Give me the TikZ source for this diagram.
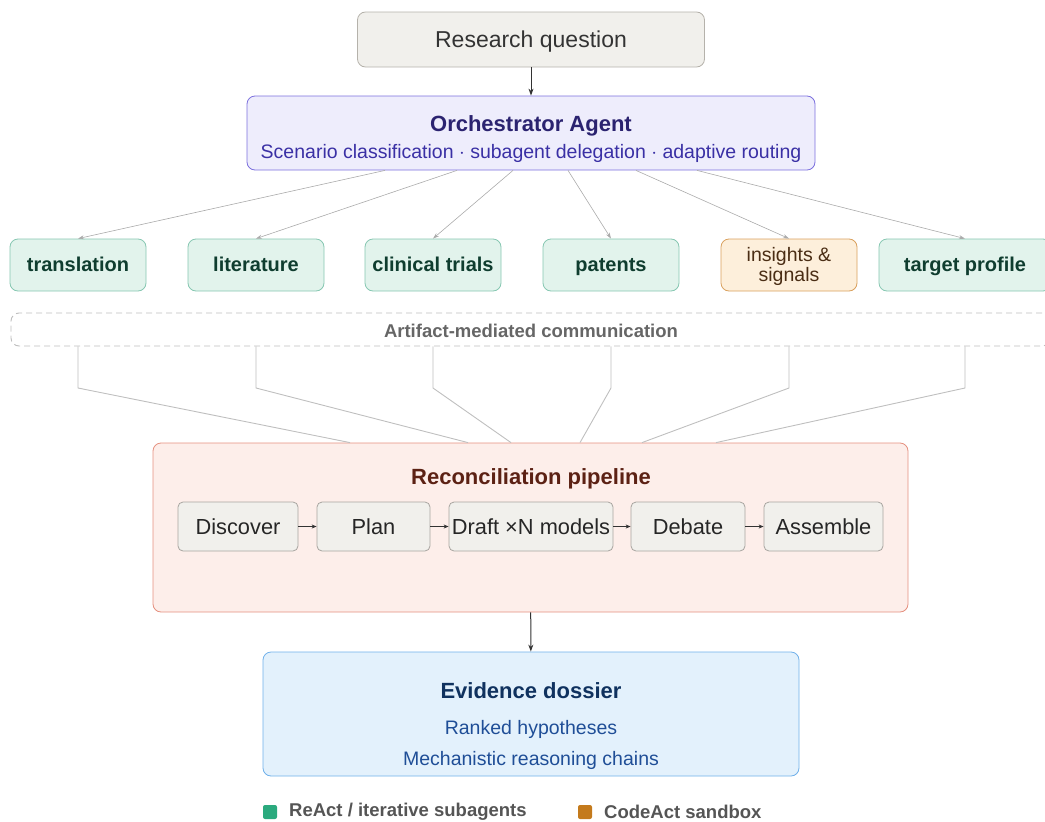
\documentclass[tikz,border=0pt]{standalone}
\usepackage{fontspec}
\setmainfont{Liberation Sans}
\usetikzlibrary{arrows.meta}
\definecolor{qfill}{HTML}{F1F0EC}
\definecolor{qdraw}{HTML}{B5B2AB}
\definecolor{orchfill}{HTML}{EEEDFC}
\definecolor{orchdraw}{HTML}{7C70DE}
\definecolor{orchtitle}{HTML}{2B2370}
\definecolor{orchsub}{HTML}{3A30A5}
\definecolor{subfill}{HTML}{E2F3EC}
\definecolor{subdraw}{HTML}{86C7B1}
\definecolor{subtext}{HTML}{0F3D2F}
\definecolor{insfill}{HTML}{FDEFDB}
\definecolor{insdraw}{HTML}{D9A05D}
\definecolor{instext}{HTML}{4A2D14}
\definecolor{artdraw}{HTML}{BDBDBD}
\definecolor{arttext}{HTML}{666666}
\definecolor{recfill}{HTML}{FDEEEA}
\definecolor{recdraw}{HTML}{E5907F}
\definecolor{rectitle}{HTML}{5C2114}
\definecolor{stagedraw}{HTML}{A8A5A0}
\definecolor{dosfill}{HTML}{E3F1FC}
\definecolor{dosdraw}{HTML}{6FB0EA}
\definecolor{dostitle}{HTML}{10325F}
\definecolor{dostext}{HTML}{1F4E97}
\definecolor{legreen}{HTML}{2BAA7E}
\definecolor{leorange}{HTML}{C47A1C}
\definecolor{legtext}{HTML}{555555}
\newcommand{\fsz}[1]{\fontsize{#1}{#1}\selectfont}
\begin{document}
\begin{tikzpicture}
[   x=1pt,y=-1pt,
    box/.style={draw=#1,rounded corners=8pt,line width=0.8pt,inner sep=0pt},
    subnode/.style={box=subdraw,fill=subfill,minimum width=136pt,minimum height=52pt,
        font=\fsz{20}\bfseries,text=subtext,text height=15pt,text depth=3pt},
    stage/.style={box=stagedraw,fill=qfill,rounded corners=5pt,minimum height=49pt,
        font=\fsz{21.8},text=black!85},
    fan/.style={draw=black!33,line width=0.6pt,-{Stealth[length=6pt,width=4pt]}},
    link/.style={draw=black!25,line width=0.9pt},
    dark/.style={draw=black!80,line width=1pt,-{Stealth[length=7pt,width=5pt]}},
]
    \useasboundingbox (0,0) rectangle (1045,822);
    % top
    \node[box=qdraw,fill=qfill,minimum width=347pt,minimum height=55pt] (q) at (531,39.5) {};
    \node[font=\fsz{23},text=black!80] (q-t) at (531,41.5) {Research question};
    \node[box=orchdraw,fill=orchfill,minimum width=568pt,minimum height=74pt] (orch) at (531,133) {};
    \node[font=\fsz{22}\bfseries,text=orchtitle] (orch-t) at (531,126) {Orchestrator Agent};
    \node[font=\fsz{19.5},text=orchsub] (orch-s) at (531,153)
        {Scenario classification $\cdot$ subagent delegation $\cdot$ adaptive routing};
    \draw[dark] (q) -- (orch);
    % subagents
    \foreach \x/\n/\t in {78/s1/translation,256/s2/literature,433/s3/clinical trials,611/s4/patents}
    {   \node[subnode] (\n) at (\x,265) {\t};
    }
    \node[subnode,minimum width=172pt] (s6) at (965,265) {};
    \node[font=\fsz{20}\bfseries,text=subtext,text height=15pt,text depth=3pt] at (s6.center)
        {target profile};
    \node[box=insdraw,fill=insfill,minimum width=136pt,minimum height=52pt] (s5) at (789,265) {};
    \node[font=\fontsize{19.5}{20}\selectfont,text=instext,align=center] (s5-t) at (789,266)
        {insights \&\\signals};
    \foreach \s/\n in {385/s1,457/s2,513/s3,568/s4,636/s5,697/s6}
    {   \draw[fan] (orch.south -| \s,0) -- (\n.north -| \n);
    }
    % artifacts
    \node[draw=artdraw,dashed,dash pattern=on 6pt off 4pt,line width=0.9pt,rounded corners=8pt,
        minimum width=1039pt,minimum height=33pt,inner sep=0pt] (art) at (530.5,329.5) {};
    \node[font=\fsz{18.5}\bfseries,text=arttext] (art-t) at (531,331) {Artifact-mediated communication};
    % reconciliation
    \node[box=recdraw,fill=recfill,minimum width=755pt,minimum height=169pt] (rec) at (530.5,527.5) {};
    \node[font=\fsz{22}\bfseries,text=rectitle] (rec-t) at (531,479) {Reconciliation pipeline};
    \foreach \n/\e in {s1/350,s2/468,s3/511,s4/580,s5/642,s6/716}
    {   \draw[link] (\n |- art.south) -- (\n |- 0,388) -- (rec.north -| \e,0);
    }
    \node[stage,minimum width=120pt] (p1) at (238,526.5) {Discover};
    \node[stage,minimum width=113pt] (p2) at (373.5,526.5) {Plan};
    \node[stage,minimum width=164pt] (p3) at (531,526.5) {Draft ×N models};
    \node[stage,minimum width=114pt] (p4) at (688,526.5) {Debate};
    \node[stage,minimum width=119pt] (p5) at (823.5,526.5) {Assemble};
    \foreach \a/\b in {p1/p2,p2/p3,p3/p4,p4/p5}
    {   \draw[draw=black!80,line width=0.8pt,-{Stealth[length=5pt,width=4pt]}] (\a) -- (\b);
    }
    % dossier
    \node[box=dosdraw,fill=dosfill,minimum width=536pt,minimum height=124pt] (dos) at (531,714) {};
    \node[font=\fsz{22}\bfseries,text=dostitle] (dos-t) at (531,691) {Evidence dossier};
    \node[font=\fsz{19.5},text=dostext] (dos-a) at (531,729) {Ranked hypotheses};
    \node[font=\fsz{19.5},text=dostext] (dos-b) at (531,760) {Mechanistic reasoning chains};
    \draw[dark] (rec) -- (dos);
    % legend
    \node[fill=legreen,rounded corners=2pt,minimum size=14pt,inner sep=0pt] (lg1) at (270,812) {};
    \node[anchor=west,font=\fsz{18.5}\bfseries,text=legtext,inner sep=0pt] (lt1) at (289,812)
        {ReAct / iterative subagents};
    \node[fill=leorange,rounded corners=2pt,minimum size=14pt,inner sep=0pt] (lg2) at (585,812) {};
    \node[anchor=west,font=\fsz{18.5}\bfseries,text=legtext,inner sep=0pt] (lt2) at (604,812)
        {CodeAct sandbox};
\end{tikzpicture}
\end{document}
